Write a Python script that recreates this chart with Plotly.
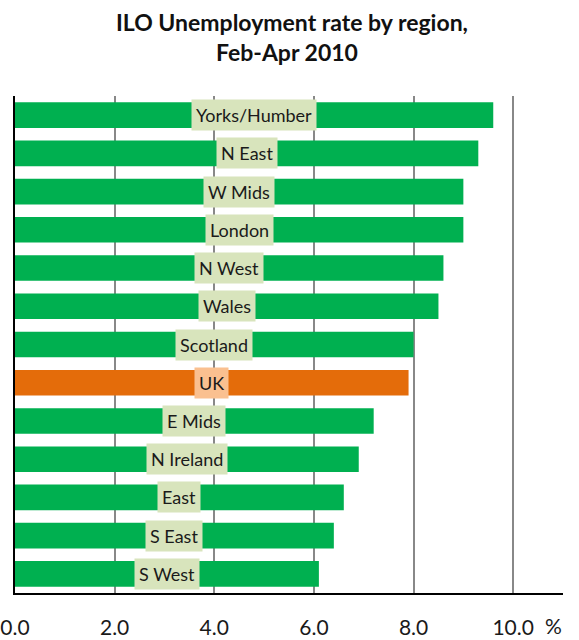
import plotly.graph_objects as go

regions = ["Yorks/Humber", "N East", "W Mids", "London", "N West", "Wales",
           "Scotland", "UK", "E Mids", "N Ireland", "East", "S East", "S West"]
rates = [9.6, 9.3, 9.0, 9.0, 8.6, 8.5, 8.0, 7.9, 7.2, 6.9, 6.6, 6.4, 6.1]
tick_vals = [0, 2, 4, 6, 8, 10]
tick_text = ["0.0", "2.0", "4.0", "6.0", "8.0", "10.0"]

GREEN = "#00B050"
ORANGE = "#E46C0A"
GREEN_LBL = "#D8E4BC"
ORANGE_LBL = "#FAC090"

bar_colors = [ORANGE if r == "UK" else GREEN for r in regions]
lbl_colors = [ORANGE_LBL if r == "UK" else GREEN_LBL for r in regions]

FONT = "Lato, 'Open Sans', sans-serif"
W, H = 579, 640
ML, MR, MT, MB = 15, 16, 96, 47
PW, PH = W - ML - MR, H - MT - MB


def px_x(px):
    return (px - ML) / PW


def px_y(py):
    return (H - MB - py) / PH


fig = go.Figure()
fig.add_trace(go.Bar(
    x=rates, y=regions, orientation="h",
    marker=dict(color=bar_colors, line=dict(width=0)),
    hoverinfo="x+y",
))

annotations = []
for r, v, c in zip(regions, rates, lbl_colors):
    annotations.append(dict(
        x=v / 2, y=r, xref="x", yref="y", text=r, showarrow=False,
        bgcolor=c, borderpad=4, font=dict(family=FONT, size=18, color="#1a1a1a"),
        xanchor="center", yanchor="middle",
    ))
annotations.append(dict(
    x=px_x(553), y=px_y(625), xref="paper", yref="paper", text="%",
    showarrow=False, xanchor="center", yanchor="middle",
    font=dict(family=FONT, size=21, color="#1a1a1a"),
))
annotations.append(dict(
    x=px_x(292), y=px_y(22), xref="paper", yref="paper",
    text="<b>ILO Unemployment rate by region,</b>",
    showarrow=False, xanchor="center", yanchor="middle",
    font=dict(family=FONT, size=23, color="#111111"),
))
annotations.append(dict(
    x=px_x(287), y=px_y(52), xref="paper", yref="paper",
    text="<b>Feb-Apr 2010</b>",
    showarrow=False, xanchor="center", yanchor="middle",
    font=dict(family=FONT, size=23, color="#111111"),
))

fig.update_layout(
    width=W, height=H,
    margin=dict(l=ML, r=MR, t=MT, b=MB, autoexpand=False),
    paper_bgcolor="white", plot_bgcolor="white",
    showlegend=False,
    bargap=0.33,
    xaxis=dict(
        range=[0, 11], tickvals=tick_vals, ticktext=tick_text,
        showgrid=True, gridcolor="#888888", gridwidth=1.5,
        zeroline=False, showline=True, linecolor="black", linewidth=2,
        ticks="", ticklabelstandoff=15, automargin=False,
        tickfont=dict(family=FONT, size=21, color="#1a1a1a"),
        fixedrange=True,
    ),
    yaxis=dict(
        autorange="reversed", showticklabels=False, ticks="",
        showline=True, linecolor="black", linewidth=2, showgrid=False,
        automargin=False, fixedrange=True,
    ),
    annotations=annotations,
)

fig.write_html(
    "out.html",
    config={"displayModeBar": False},
    post_script="document.body.style.margin='0';document.body.style.overflow='hidden';",
)
